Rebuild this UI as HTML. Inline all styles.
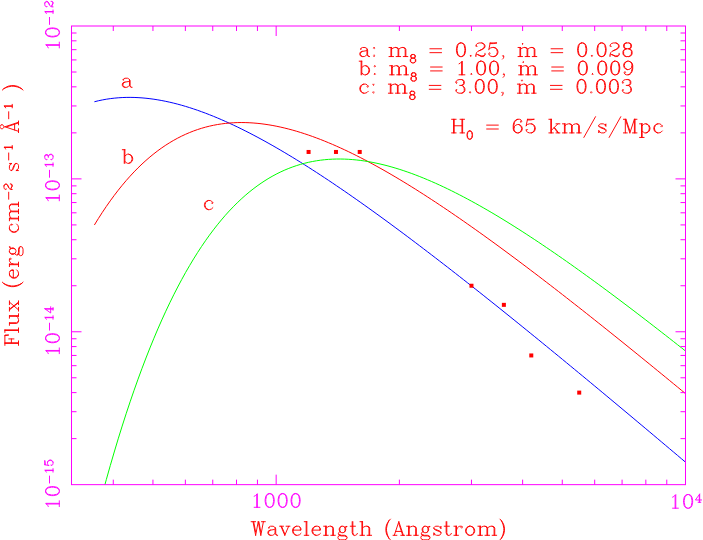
<!DOCTYPE html>
<html lang="en"><head><meta charset="utf-8"><title>Flux vs Wavelength</title>
<style>
html,body{margin:0;padding:0;background:#fff}
body{width:703px;height:540px;overflow:hidden;font-family:"Liberation Serif",serif}
svg{display:block}
.t{fill:none;stroke-width:0.95;stroke-linecap:round;stroke-linejoin:round}
.ax{fill:none;stroke:#ff00ff;stroke-width:1.0;stroke-linecap:butt}
.cv path{fill:none;stroke-width:1.0;stroke-linejoin:round}
.lbl text{font-family:"Liberation Serif",serif;font-size:15px;fill:#000;fill-opacity:0;stroke:none}
</style></head><body>
<svg width="703" height="540" viewBox="0 0 703 540">
<rect width="703" height="540" fill="#fff"/>
<defs><clipPath id="c"><rect x="71.5" y="26" width="614" height="458.65"/></clipPath></defs>
<g class="cv" clip-path="url(#c)">
<path stroke="#0000ff" d="M94.4 101.75 L98.37 100.78 L102.33 99.94 L106.3 99.22 L110.27 98.63 L114.24 98.16 L118.2 97.8 L122.17 97.55 L126.14 97.41 L130.1 97.38 L134.07 97.45 L138.04 97.61 L142.01 97.88 L145.97 98.24 L149.94 98.69 L153.91 99.23 L157.87 99.85 L161.84 100.56 L165.81 101.35 L169.78 102.21 L173.74 103.15 L177.71 104.17 L181.68 105.26 L185.64 106.42 L189.61 107.64 L193.58 108.93 L197.54 110.28 L201.51 111.7 L205.48 113.17 L209.45 114.7 L213.41 116.29 L217.38 117.93 L221.35 119.62 L225.31 121.37 L229.28 123.16 L233.25 125 L237.22 126.89 L241.18 128.82 L245.15 130.8 L249.12 132.82 L253.08 134.88 L257.05 136.98 L261.02 139.11 L264.99 141.29 L268.95 143.5 L272.92 145.74 L276.89 148.02 L280.85 150.33 L284.82 152.68 L288.79 155.05 L292.76 157.46 L296.72 159.89 L300.69 162.35 L304.66 164.84 L308.62 167.35 L312.59 169.9 L316.56 172.46 L320.53 175.05 L324.49 177.66 L328.46 180.3 L332.43 182.95 L336.39 185.63 L340.36 188.33 L344.33 191.05 L348.3 193.79 L352.26 196.55 L356.23 199.32 L360.2 202.12 L364.16 204.93 L368.13 207.75 L372.1 210.6 L376.07 213.46 L380.03 216.33 L384 219.22 L387.97 222.12 L391.93 225.04 L395.9 227.97 L399.87 230.91 L403.83 233.87 L407.8 236.84 L411.77 239.82 L415.74 242.82 L419.7 245.82 L423.67 248.84 L427.64 251.86 L431.6 254.9 L435.57 257.95 L439.54 261 L443.51 264.07 L447.47 267.14 L451.44 270.23 L455.41 273.32 L459.37 276.42 L463.34 279.53 L467.31 282.65 L471.28 285.78 L475.24 288.91 L479.21 292.06 L483.18 295.2 L487.14 298.36 L491.11 301.52 L495.08 304.69 L499.05 307.87 L503.01 311.05 L506.98 314.24 L510.95 317.43 L514.91 320.63 L518.88 323.84 L522.85 327.05 L526.82 330.27 L530.78 333.49 L534.75 336.72 L538.72 339.95 L542.68 343.19 L546.65 346.43 L550.62 349.68 L554.59 352.93 L558.55 356.18 L562.52 359.44 L566.49 362.71 L570.45 365.98 L574.42 369.25 L578.39 372.52 L582.36 375.8 L586.32 379.09 L590.29 382.37 L594.26 385.66 L598.22 388.96 L602.19 392.26 L606.16 395.56 L610.12 398.86 L614.09 402.17 L618.06 405.48 L622.03 408.79 L625.99 412.1 L629.96 415.42 L633.93 418.74 L637.89 422.07 L641.86 425.4 L645.83 428.72 L649.8 432.06 L653.76 435.39 L657.73 438.73 L661.7 442.07 L665.66 445.41 L669.63 448.75 L673.6 452.1 L677.57 455.45 L681.53 458.8 L685.5 462.15"/>
<path stroke="#ff0000" d="M94.4 224.98 L98.37 218.55 L102.33 212.38 L106.3 206.47 L110.27 200.82 L114.24 195.42 L118.2 190.25 L122.17 185.33 L126.14 180.63 L130.1 176.16 L134.07 171.9 L138.04 167.86 L142.01 164.03 L145.97 160.41 L149.94 156.98 L153.91 153.74 L157.87 150.69 L161.84 147.83 L165.81 145.14 L169.78 142.63 L173.74 140.29 L177.71 138.12 L181.68 136.1 L185.64 134.25 L189.61 132.54 L193.58 130.98 L197.54 129.57 L201.51 128.3 L205.48 127.17 L209.45 126.17 L213.41 125.3 L217.38 124.55 L221.35 123.93 L225.31 123.43 L229.28 123.04 L233.25 122.77 L237.22 122.6 L241.18 122.54 L245.15 122.58 L249.12 122.73 L253.08 122.97 L257.05 123.31 L261.02 123.73 L264.99 124.25 L268.95 124.85 L272.92 125.54 L276.89 126.31 L280.85 127.16 L284.82 128.08 L288.79 129.08 L292.76 130.15 L296.72 131.29 L300.69 132.5 L304.66 133.77 L308.62 135.11 L312.59 136.51 L316.56 137.97 L320.53 139.48 L324.49 141.06 L328.46 142.69 L332.43 144.37 L336.39 146.1 L340.36 147.88 L344.33 149.71 L348.3 151.59 L352.26 153.51 L356.23 155.48 L360.2 157.48 L364.16 159.53 L368.13 161.62 L372.1 163.75 L376.07 165.92 L380.03 168.12 L384 170.35 L387.97 172.62 L391.93 174.93 L395.9 177.26 L399.87 179.63 L403.83 182.03 L407.8 184.45 L411.77 186.91 L415.74 189.39 L419.7 191.9 L423.67 194.43 L427.64 196.99 L431.6 199.58 L435.57 202.18 L439.54 204.81 L443.51 207.47 L447.47 210.14 L451.44 212.83 L455.41 215.55 L459.37 218.28 L463.34 221.03 L467.31 223.8 L471.28 226.59 L475.24 229.4 L479.21 232.22 L483.18 235.06 L487.14 237.92 L491.11 240.79 L495.08 243.67 L499.05 246.57 L503.01 249.49 L506.98 252.41 L510.95 255.36 L514.91 258.31 L518.88 261.28 L522.85 264.25 L526.82 267.24 L530.78 270.25 L534.75 273.26 L538.72 276.28 L542.68 279.32 L546.65 282.36 L550.62 285.42 L554.59 288.48 L558.55 291.55 L562.52 294.64 L566.49 297.73 L570.45 300.83 L574.42 303.94 L578.39 307.05 L582.36 310.18 L586.32 313.31 L590.29 316.45 L594.26 319.6 L598.22 322.75 L602.19 325.91 L606.16 329.08 L610.12 332.25 L614.09 335.43 L618.06 338.62 L622.03 341.81 L625.99 345.01 L629.96 348.22 L633.93 351.43 L637.89 354.64 L641.86 357.86 L645.83 361.09 L649.8 364.32 L653.76 367.56 L657.73 370.8 L661.7 374.04 L665.66 377.29 L669.63 380.55 L673.6 383.81 L677.57 387.07 L681.53 390.34 L685.5 393.61"/>
<path stroke="#00ff00" d="M94.4 524.5 L98.37 509.08 L102.33 494.12 L106.3 479.63 L110.27 465.59 L114.24 452 L118.2 438.83 L122.17 426.09 L126.14 413.76 L130.1 401.84 L134.07 390.31 L138.04 379.16 L142.01 368.39 L145.97 357.99 L149.94 347.95 L153.91 338.26 L157.87 328.91 L161.84 319.9 L165.81 311.21 L169.78 302.84 L173.74 294.79 L177.71 287.04 L181.68 279.59 L185.64 272.42 L189.61 265.55 L193.58 258.95 L197.54 252.62 L201.51 246.55 L205.48 240.74 L209.45 235.18 L213.41 229.87 L217.38 224.8 L221.35 219.96 L225.31 215.35 L229.28 210.97 L233.25 206.8 L237.22 202.84 L241.18 199.09 L245.15 195.53 L249.12 192.18 L253.08 189.02 L257.05 186.04 L261.02 183.25 L264.99 180.63 L268.95 178.18 L272.92 175.91 L276.89 173.79 L280.85 171.84 L284.82 170.04 L288.79 168.4 L292.76 166.9 L296.72 165.54 L300.69 164.32 L304.66 163.24 L308.62 162.29 L312.59 161.47 L316.56 160.77 L320.53 160.19 L324.49 159.74 L328.46 159.39 L332.43 159.16 L336.39 159.04 L340.36 159.02 L344.33 159.1 L348.3 159.28 L352.26 159.56 L356.23 159.93 L360.2 160.39 L364.16 160.94 L368.13 161.58 L372.1 162.3 L376.07 163.1 L380.03 163.98 L384 164.93 L387.97 165.95 L391.93 167.05 L395.9 168.22 L399.87 169.45 L403.83 170.75 L407.8 172.11 L411.77 173.53 L415.74 175.02 L419.7 176.56 L423.67 178.15 L427.64 179.8 L431.6 181.5 L435.57 183.25 L439.54 185.05 L443.51 186.9 L447.47 188.79 L451.44 190.73 L455.41 192.72 L459.37 194.74 L463.34 196.8 L467.31 198.91 L471.28 201.05 L475.24 203.23 L479.21 205.45 L483.18 207.7 L487.14 209.98 L491.11 212.3 L495.08 214.64 L499.05 217.02 L503.01 219.43 L506.98 221.87 L510.95 224.33 L514.91 226.83 L518.88 229.34 L522.85 231.89 L526.82 234.46 L530.78 237.05 L534.75 239.67 L538.72 242.3 L542.68 244.96 L546.65 247.65 L550.62 250.35 L554.59 253.07 L558.55 255.81 L562.52 258.57 L566.49 261.35 L570.45 264.14 L574.42 266.96 L578.39 269.79 L582.36 272.63 L586.32 275.49 L590.29 278.37 L594.26 281.26 L598.22 284.17 L602.19 287.08 L606.16 290.02 L610.12 292.96 L614.09 295.92 L618.06 298.89 L622.03 301.88 L625.99 304.87 L629.96 307.88 L633.93 310.89 L637.89 313.92 L641.86 316.96 L645.83 320.01 L649.8 323.07 L653.76 326.13 L657.73 329.21 L661.7 332.3 L665.66 335.39 L669.63 338.49 L673.6 341.61 L677.57 344.73 L681.53 347.85 L685.5 350.99"/>
</g>
<g fill="#ff0000"><rect x="306.58" y="149.96" width="4" height="4"/><rect x="333.98" y="149.96" width="4" height="4"/><rect x="357.72" y="149.96" width="4" height="4"/><rect x="469.47" y="283.74" width="4" height="4"/><rect x="501.88" y="302.85" width="4" height="4"/><rect x="529.28" y="353.45" width="4" height="4"/><rect x="577.22" y="390.61" width="4" height="4"/></g>
<rect class="ax" x="71.5" y="26" width="614" height="458.65"/>
<path class="ax" stroke-width="1.0" d="M113.28 484.65V479.65M113.28 26V31M152.95 484.65V479.65M152.95 26V31M185.36 484.65V479.65M185.36 26V31M212.76 484.65V479.65M212.76 26V31M236.5 484.65V479.65M236.5 26V31M257.44 484.65V479.65M257.44 26V31M276.17 484.65V474.65M276.17 26V36M399.39 484.65V479.65M399.39 26V31M471.47 484.65V479.65M471.47 26V31M522.61 484.65V479.65M522.61 26V31M562.28 484.65V479.65M562.28 26V31M594.69 484.65V479.65M594.69 26V31M622.09 484.65V479.65M622.09 26V31M645.83 484.65V479.65M645.83 26V31M666.77 484.65V479.65M666.77 26V31M71.5 438.63H76.5M685.5 438.63H680.5M71.5 411.71H76.5M685.5 411.71H680.5M71.5 392.61H76.5M685.5 392.61H680.5M71.5 377.79H76.5M685.5 377.79H680.5M71.5 365.68H76.5M685.5 365.68H680.5M71.5 355.45H76.5M685.5 355.45H680.5M71.5 346.58H76.5M685.5 346.58H680.5M71.5 338.76H76.5M685.5 338.76H680.5M71.5 331.77H81.5M685.5 331.77H675.5M71.5 285.74H76.5M685.5 285.74H680.5M71.5 258.82H76.5M685.5 258.82H680.5M71.5 239.72H76.5M685.5 239.72H680.5M71.5 224.91H76.5M685.5 224.91H680.5M71.5 212.8H76.5M685.5 212.8H680.5M71.5 202.57H76.5M685.5 202.57H680.5M71.5 193.7H76.5M685.5 193.7H680.5M71.5 185.88H76.5M685.5 185.88H680.5M71.5 178.88H81.5M685.5 178.88H675.5M71.5 132.86H76.5M685.5 132.86H680.5M71.5 105.94H76.5M685.5 105.94H680.5M71.5 86.84H76.5M685.5 86.84H680.5M71.5 72.02H76.5M685.5 72.02H680.5M71.5 59.92H76.5M685.5 59.92H680.5M71.5 49.68H76.5M685.5 49.68H680.5M71.5 40.82H76.5M685.5 40.82H680.5M71.5 33H76.5M685.5 33H680.5"/>
<g>
<path class="t" stroke="#ff00ff" d="M254.13 496.28 L255.43 495.64 L257.37 493.69 L257.37 507.3M256.73 494.34 L256.73 507.3M254.13 507.3 L259.97 507.3M269.04 493.69 L267.09 494.34 L265.8 496.28 L265.15 499.52 L265.15 501.47 L265.8 504.71 L267.09 506.65 L269.04 507.3 L270.33 507.3 L272.28 506.65 L273.57 504.71 L274.22 501.47 L274.22 499.52 L273.57 496.28 L272.28 494.34 L270.33 493.69 L269.04 493.69M269.04 493.69 L267.74 494.34 L267.09 494.99 L266.45 496.28 L265.8 499.52 L265.8 501.47 L266.45 504.71 L267.09 506 L267.74 506.65 L269.04 507.3M270.33 507.3 L271.63 506.65 L272.28 506 L272.93 504.71 L273.57 501.47 L273.57 499.52 L272.93 496.28 L272.28 494.99 L271.63 494.34 L270.33 493.69M282 493.69 L280.05 494.34 L278.76 496.28 L278.11 499.52 L278.11 501.47 L278.76 504.71 L280.05 506.65 L282 507.3 L283.29 507.3 L285.24 506.65 L286.53 504.71 L287.18 501.47 L287.18 499.52 L286.53 496.28 L285.24 494.34 L283.29 493.69 L282 493.69M282 493.69 L280.7 494.34 L280.05 494.99 L279.41 496.28 L278.76 499.52 L278.76 501.47 L279.41 504.71 L280.05 506 L280.7 506.65 L282 507.3M283.29 507.3 L284.59 506.65 L285.24 506 L285.89 504.71 L286.53 501.47 L286.53 499.52 L285.89 496.28 L285.24 494.99 L284.59 494.34 L283.29 493.69M294.96 493.69 L293.01 494.34 L291.72 496.28 L291.07 499.52 L291.07 501.47 L291.72 504.71 L293.01 506.65 L294.96 507.3 L296.25 507.3 L298.2 506.65 L299.49 504.71 L300.14 501.47 L300.14 499.52 L299.49 496.28 L298.2 494.34 L296.25 493.69 L294.96 493.69M294.96 493.69 L293.66 494.34 L293.01 494.99 L292.37 496.28 L291.72 499.52 L291.72 501.47 L292.37 504.71 L293.01 506 L293.66 506.65 L294.96 507.3M296.25 507.3 L297.55 506.65 L298.2 506 L298.85 504.71 L299.49 501.47 L299.49 499.52 L298.85 496.28 L298.2 494.99 L297.55 494.34 L296.25 493.69"/>
<path class="t" stroke="#ff00ff" d="M672.54 497.18 L673.84 496.54 L675.78 494.59 L675.78 508.2M675.13 495.24 L675.13 508.2M672.54 508.2 L678.37 508.2M687.44 494.59 L685.5 495.24 L684.2 497.18 L683.56 500.42 L683.56 502.37 L684.2 505.61 L685.5 507.55 L687.44 508.2 L688.74 508.2 L690.68 507.55 L691.98 505.61 L692.63 502.37 L692.63 500.42 L691.98 497.18 L690.68 495.24 L688.74 494.59 L687.44 494.59M687.44 494.59 L686.15 495.24 L685.5 495.89 L684.85 497.18 L684.2 500.42 L684.2 502.37 L684.85 505.61 L685.5 506.9 L686.15 507.55 L687.44 508.2M688.74 508.2 L690.04 507.55 L690.68 506.9 L691.33 505.61 L691.98 502.37 L691.98 500.42 L691.33 497.18 L690.68 495.89 L690.04 495.24 L688.74 494.59"/>
<path class="t" stroke="#ff00ff" d="M699.29 494.91 L699.29 502.3M699.68 494.14 L699.68 502.3M699.68 494.14 L695.4 499.97 L701.62 499.97M698.12 502.3 L700.84 502.3"/>
<path class="t" stroke="#ff00ff" d="M48.28 47.92 L47.64 46.63 L45.69 44.69 L59.3 44.69M46.34 45.34 L59.3 45.34M59.3 47.92 L59.3 42.11M45.69 33.08 L46.34 35.01 L48.28 36.3 L51.52 36.95 L53.47 36.95 L56.71 36.3 L58.65 35.01 L59.3 33.08 L59.3 31.79 L58.65 29.85 L56.71 28.56 L53.47 27.91 L51.52 27.91 L48.28 28.56 L46.34 29.85 L45.69 31.79 L45.69 33.08M45.69 33.08 L46.34 34.37 L46.99 35.01 L48.28 35.66 L51.52 36.3 L53.47 36.3 L56.71 35.66 L58 35.01 L58.65 34.37 L59.3 33.08M59.3 31.79 L58.65 30.5 L58 29.85 L56.71 29.2 L53.47 28.56 L51.52 28.56 L48.28 29.2 L46.99 29.85 L46.34 30.5 L45.69 31.79M49.5 24.42 L49.5 17.39M46.36 13.48 L45.97 12.7 L44.79 11.53 L53.03 11.53M45.19 11.92 L53.03 11.92M53.03 13.48 L53.03 9.97M46.36 6.45 L46.75 6.06 L47.15 6.45 L46.75 6.84 L46.36 6.84 L45.58 6.45 L45.19 6.06 L44.79 4.89 L44.79 3.33 L45.19 2.16 L45.58 1.77 L46.36 1.38 L47.15 1.38 L47.93 1.77 L48.71 2.94 L49.5 4.89 L49.89 5.67 L50.68 6.45 L51.85 6.84 L53.03 6.84M44.79 3.33 L45.19 2.55 L45.58 2.16 L46.36 1.77 L47.15 1.77 L47.93 2.16 L48.71 3.33 L49.5 4.89M52.24 6.84 L51.85 6.45 L51.85 5.67 L52.64 3.72 L52.64 2.55 L52.24 1.77 L51.85 1.38M51.85 5.67 L53.03 3.72 L53.03 2.16 L52.64 1.77 L51.85 1.38 L51.07 1.38"/>
<path class="t" stroke="#ff00ff" d="M48.28 200.8 L47.64 199.51 L45.69 197.58 L59.3 197.58M46.34 198.22 L59.3 198.22M59.3 200.8 L59.3 195M45.69 185.96 L46.34 187.9 L48.28 189.19 L51.52 189.83 L53.47 189.83 L56.71 189.19 L58.65 187.9 L59.3 185.96 L59.3 184.67 L58.65 182.73 L56.71 181.44 L53.47 180.8 L51.52 180.8 L48.28 181.44 L46.34 182.73 L45.69 184.67 L45.69 185.96M45.69 185.96 L46.34 187.25 L46.99 187.9 L48.28 188.54 L51.52 189.19 L53.47 189.19 L56.71 188.54 L58 187.9 L58.65 187.25 L59.3 185.96M59.3 184.67 L58.65 183.38 L58 182.73 L56.71 182.09 L53.47 181.44 L51.52 181.44 L48.28 182.09 L46.99 182.73 L46.34 183.38 L45.69 184.67M49.5 177.3 L49.5 170.27M46.36 166.37 L45.97 165.58 L44.79 164.41 L53.03 164.41M45.19 164.8 L53.03 164.8M53.03 166.37 L53.03 162.85M46.36 159.34 L46.75 158.95 L47.15 159.34 L46.75 159.73 L46.36 159.73 L45.58 159.34 L45.19 158.95 L44.79 157.78 L44.79 156.21 L45.19 155.04 L45.97 154.65 L47.15 154.65 L47.93 155.04 L48.32 156.21 L48.32 157.38M44.79 156.21 L45.19 155.43 L45.97 155.04 L47.15 155.04 L47.93 155.43 L48.32 156.21M48.32 156.21 L48.71 155.43 L49.5 154.65 L50.28 154.26 L51.46 154.26 L52.24 154.65 L52.64 155.04 L53.03 156.21 L53.03 157.78 L52.64 158.95 L52.24 159.34 L51.46 159.73 L51.07 159.73 L50.68 159.34 L51.07 158.95 L51.46 159.34M49.11 155.04 L50.28 154.65 L51.46 154.65 L52.24 155.04 L52.64 155.43 L53.03 156.21"/>
<path class="t" stroke="#ff00ff" d="M48.28 353.69 L47.64 352.4 L45.69 350.46 L59.3 350.46M46.34 351.11 L59.3 351.11M59.3 353.69 L59.3 347.88M45.69 338.84 L46.34 340.78 L48.28 342.07 L51.52 342.72 L53.47 342.72 L56.71 342.07 L58.65 340.78 L59.3 338.84 L59.3 337.55 L58.65 335.62 L56.71 334.33 L53.47 333.68 L51.52 333.68 L48.28 334.33 L46.34 335.62 L45.69 337.55 L45.69 338.84M45.69 338.84 L46.34 340.13 L46.99 340.78 L48.28 341.43 L51.52 342.07 L53.47 342.07 L56.71 341.43 L58 340.78 L58.65 340.13 L59.3 338.84M59.3 337.55 L58.65 336.26 L58 335.62 L56.71 334.97 L53.47 334.33 L51.52 334.33 L48.28 334.97 L46.99 335.62 L46.34 336.26 L45.69 337.55M49.5 330.18 L49.5 323.15M46.36 319.25 L45.97 318.47 L44.79 317.3 L53.03 317.3M45.19 317.69 L53.03 317.69M53.03 319.25 L53.03 315.73M45.58 309.1 L53.03 309.1M44.79 308.71 L53.03 308.71M44.79 308.71 L50.68 313 L50.68 306.75M53.03 310.27 L53.03 307.53"/>
<path class="t" stroke="#ff00ff" d="M48.28 506.57 L47.64 505.28 L45.69 503.34 L59.3 503.34M46.34 503.99 L59.3 503.99M59.3 506.57 L59.3 500.76M45.69 491.73 L46.34 493.66 L48.28 494.95 L51.52 495.6 L53.47 495.6 L56.71 494.95 L58.65 493.66 L59.3 491.73 L59.3 490.44 L58.65 488.5 L56.71 487.21 L53.47 486.56 L51.52 486.56 L48.28 487.21 L46.34 488.5 L45.69 490.44 L45.69 491.73M45.69 491.73 L46.34 493.02 L46.99 493.66 L48.28 494.31 L51.52 494.95 L53.47 494.95 L56.71 494.31 L58 493.66 L58.65 493.02 L59.3 491.73M59.3 490.44 L58.65 489.15 L58 488.5 L56.71 487.85 L53.47 487.21 L51.52 487.21 L48.28 487.85 L46.99 488.5 L46.34 489.15 L45.69 490.44M49.5 483.07 L49.5 476.04M46.36 472.13 L45.97 471.35 L44.79 470.18 L53.03 470.18M45.19 470.57 L53.03 470.57M53.03 472.13 L53.03 468.62M44.79 464.71 L48.71 465.49M48.71 465.49 L47.93 464.71 L47.54 463.54 L47.54 462.37 L47.93 461.2 L48.71 460.42 L49.89 460.03 L50.68 460.03 L51.85 460.42 L52.64 461.2 L53.03 462.37 L53.03 463.54 L52.64 464.71 L52.24 465.1 L51.46 465.49 L51.07 465.49 L50.68 465.1 L51.07 464.71 L51.46 465.1M47.54 462.37 L47.93 461.59 L48.71 460.81 L49.89 460.42 L50.68 460.42 L51.85 460.81 L52.64 461.59 L53.03 462.37M44.79 464.71 L44.79 460.81M45.19 464.71 L45.19 462.76 L44.79 460.81"/>
<path class="t" stroke="#ff0000" d="M253.04 521.69 L255.63 535.3M253.69 521.69 L255.63 532.06M258.23 521.69 L255.63 535.3M258.23 521.69 L260.82 535.3M258.87 521.69 L260.82 532.06M263.41 521.69 L260.82 535.3M251.1 521.69 L255.63 521.69M261.47 521.69 L265.35 521.69M269.24 527.52 L269.24 528.17 L268.59 528.17 L268.59 527.52 L269.24 526.88 L270.54 526.23 L273.13 526.23 L274.43 526.88 L275.07 527.52 L275.72 528.82 L275.72 533.36 L276.37 534.65 L277.02 535.3M275.07 527.52 L275.07 533.36 L275.72 534.65 L277.02 535.3 L277.67 535.3M275.07 528.82 L274.43 529.47 L270.54 530.12 L268.59 530.76 L267.95 532.06 L267.95 533.36 L268.59 534.65 L270.54 535.3 L272.48 535.3 L273.78 534.65 L275.07 533.36M270.54 530.12 L269.24 530.76 L268.59 532.06 L268.59 533.36 L269.24 534.65 L270.54 535.3M280.91 526.23 L284.79 535.3M281.55 526.23 L284.79 534M288.68 526.23 L284.79 535.3M279.61 526.23 L283.5 526.23M286.09 526.23 L289.98 526.23M293.22 530.12 L300.99 530.12 L300.99 528.82 L300.35 527.52 L299.7 526.88 L298.4 526.23 L296.46 526.23 L294.51 526.88 L293.22 528.17 L292.57 530.12 L292.57 531.41 L293.22 533.36 L294.51 534.65 L296.46 535.3 L297.75 535.3 L299.7 534.65 L300.99 533.36M300.35 530.12 L300.35 528.17 L299.7 526.88M296.46 526.23 L295.16 526.88 L293.87 528.17 L293.22 530.12 L293.22 531.41 L293.87 533.36 L295.16 534.65 L296.46 535.3M306.18 521.69 L306.18 535.3M306.83 521.69 L306.83 535.3M304.23 521.69 L306.83 521.69M304.23 535.3 L308.77 535.3M312.66 530.12 L320.43 530.12 L320.43 528.82 L319.79 527.52 L319.14 526.88 L317.84 526.23 L315.9 526.23 L313.95 526.88 L312.66 528.17 L312.01 530.12 L312.01 531.41 L312.66 533.36 L313.95 534.65 L315.9 535.3 L317.19 535.3 L319.14 534.65 L320.43 533.36M319.79 530.12 L319.79 528.17 L319.14 526.88M315.9 526.23 L314.6 526.88 L313.31 528.17 L312.66 530.12 L312.66 531.41 L313.31 533.36 L314.6 534.65 L315.9 535.3M325.62 526.23 L325.62 535.3M326.27 526.23 L326.27 535.3M326.27 528.17 L327.56 526.88 L329.51 526.23 L330.8 526.23 L332.75 526.88 L333.39 528.17 L333.39 535.3M330.8 526.23 L332.1 526.88 L332.75 528.17 L332.75 535.3M323.67 526.23 L326.27 526.23M323.67 535.3 L328.21 535.3M330.8 535.3 L335.34 535.3M341.82 526.23 L340.52 526.88 L339.87 527.52 L339.23 528.82 L339.23 530.12 L339.87 531.41 L340.52 532.06 L341.82 532.71 L343.11 532.71 L344.41 532.06 L345.06 531.41 L345.71 530.12 L345.71 528.82 L345.06 527.52 L344.41 526.88 L343.11 526.23 L341.82 526.23M340.52 526.88 L339.87 528.17 L339.87 530.76 L340.52 532.06M344.41 532.06 L345.06 530.76 L345.06 528.17 L344.41 526.88M345.06 527.52 L345.71 526.88 L347 526.23 L347 526.88 L345.71 526.88M339.87 531.41 L339.23 532.06 L338.58 533.36 L338.58 534 L339.23 535.3 L341.17 535.95 L344.41 535.95 L346.35 536.6 L347 537.24M338.58 534 L339.23 534.65 L341.17 535.3 L344.41 535.3 L346.35 535.95 L347 537.24 L347 537.89 L346.35 539.19 L344.41 539.84 L340.52 539.84 L338.58 539.19 L337.93 537.89 L337.93 537.24 L338.58 535.95 L340.52 535.3M352.19 521.69 L352.19 532.71 L352.83 534.65 L354.13 535.3 L355.43 535.3 L356.72 534.65 L357.37 533.36M352.83 521.69 L352.83 532.71 L353.48 534.65 L354.13 535.3M350.24 526.23 L355.43 526.23M361.91 521.69 L361.91 535.3M362.55 521.69 L362.55 535.3M362.55 528.17 L363.85 526.88 L365.79 526.23 L367.09 526.23 L369.03 526.88 L369.68 528.17 L369.68 535.3M367.09 526.23 L368.39 526.88 L369.03 528.17 L369.03 535.3M359.96 521.69 L362.55 521.69M359.96 535.3 L364.5 535.3M367.09 535.3 L371.63 535.3M390.42 519.1 L389.12 520.4 L387.83 522.34 L386.53 524.93 L385.88 528.17 L385.88 530.76 L386.53 534 L387.83 536.6 L389.12 538.54 L390.42 539.84M389.12 520.4 L387.83 522.99 L387.18 524.93 L386.53 528.17 L386.53 530.76 L387.18 534 L387.83 535.95 L389.12 538.54M398.84 521.69 L394.31 535.3M398.84 521.69 L403.38 535.3M398.84 523.64 L402.73 535.3M395.6 531.41 L401.43 531.41M393.01 535.3 L396.9 535.3M400.79 535.3 L404.67 535.3M408.56 526.23 L408.56 535.3M409.21 526.23 L409.21 535.3M409.21 528.17 L410.51 526.88 L412.45 526.23 L413.75 526.23 L415.69 526.88 L416.34 528.17 L416.34 535.3M413.75 526.23 L415.04 526.88 L415.69 528.17 L415.69 535.3M406.62 526.23 L409.21 526.23M406.62 535.3 L411.15 535.3M413.75 535.3 L418.28 535.3M424.76 526.23 L423.47 526.88 L422.82 527.52 L422.17 528.82 L422.17 530.12 L422.82 531.41 L423.47 532.06 L424.76 532.71 L426.06 532.71 L427.35 532.06 L428 531.41 L428.65 530.12 L428.65 528.82 L428 527.52 L427.35 526.88 L426.06 526.23 L424.76 526.23M423.47 526.88 L422.82 528.17 L422.82 530.76 L423.47 532.06M427.35 532.06 L428 530.76 L428 528.17 L427.35 526.88M428 527.52 L428.65 526.88 L429.95 526.23 L429.95 526.88 L428.65 526.88M422.82 531.41 L422.17 532.06 L421.52 533.36 L421.52 534 L422.17 535.3 L424.11 535.95 L427.35 535.95 L429.3 536.6 L429.95 537.24M421.52 534 L422.17 534.65 L424.11 535.3 L427.35 535.3 L429.3 535.95 L429.95 537.24 L429.95 537.89 L429.3 539.19 L427.35 539.84 L423.47 539.84 L421.52 539.19 L420.87 537.89 L420.87 537.24 L421.52 535.95 L423.47 535.3M440.31 527.52 L440.96 526.23 L440.96 528.82 L440.31 527.52 L439.67 526.88 L438.37 526.23 L435.78 526.23 L434.48 526.88 L433.83 527.52 L433.83 528.82 L434.48 529.47 L435.78 530.12 L439.02 531.41 L440.31 532.06 L440.96 532.71M433.83 528.17 L434.48 528.82 L435.78 529.47 L439.02 530.76 L440.31 531.41 L440.96 532.06 L440.96 534 L440.31 534.65 L439.02 535.3 L436.43 535.3 L435.13 534.65 L434.48 534 L433.83 532.71 L433.83 535.3 L434.48 534M446.15 521.69 L446.15 532.71 L446.79 534.65 L448.09 535.3 L449.39 535.3 L450.68 534.65 L451.33 533.36M446.79 521.69 L446.79 532.71 L447.44 534.65 L448.09 535.3M444.2 526.23 L449.39 526.23M455.87 526.23 L455.87 535.3M456.51 526.23 L456.51 535.3M456.51 530.12 L457.16 528.17 L458.46 526.88 L459.75 526.23 L461.7 526.23 L462.35 526.88 L462.35 527.52 L461.7 528.17 L461.05 527.52 L461.7 526.88M453.92 526.23 L456.51 526.23M453.92 535.3 L458.46 535.3M469.47 526.23 L467.53 526.88 L466.23 528.17 L465.59 530.12 L465.59 531.41 L466.23 533.36 L467.53 534.65 L469.47 535.3 L470.77 535.3 L472.71 534.65 L474.01 533.36 L474.66 531.41 L474.66 530.12 L474.01 528.17 L472.71 526.88 L470.77 526.23 L469.47 526.23M469.47 526.23 L468.18 526.88 L466.88 528.17 L466.23 530.12 L466.23 531.41 L466.88 533.36 L468.18 534.65 L469.47 535.3M470.77 535.3 L472.07 534.65 L473.36 533.36 L474.01 531.41 L474.01 530.12 L473.36 528.17 L472.07 526.88 L470.77 526.23M479.84 526.23 L479.84 535.3M480.49 526.23 L480.49 535.3M480.49 528.17 L481.79 526.88 L483.73 526.23 L485.03 526.23 L486.97 526.88 L487.62 528.17 L487.62 535.3M485.03 526.23 L486.32 526.88 L486.97 528.17 L486.97 535.3M487.62 528.17 L488.91 526.88 L490.86 526.23 L492.15 526.23 L494.1 526.88 L494.75 528.17 L494.75 535.3M492.15 526.23 L493.45 526.88 L494.1 528.17 L494.1 535.3M477.9 526.23 L480.49 526.23M477.9 535.3 L482.43 535.3M485.03 535.3 L489.56 535.3M492.15 535.3 L496.69 535.3M499.93 519.1 L501.23 520.4 L502.52 522.34 L503.82 524.93 L504.47 528.17 L504.47 530.76 L503.82 534 L502.52 536.6 L501.23 538.54 L499.93 539.84M501.23 520.4 L502.52 522.99 L503.17 524.93 L503.82 528.17 L503.82 530.76 L503.17 534 L502.52 535.95 L501.23 538.54"/>
<path class="t" stroke="#ff0000" d="M4.89 343.42 L18.5 343.42M4.89 342.78 L18.5 342.78M8.78 338.91 L13.96 338.91M4.89 345.36 L4.89 335.03 L8.78 335.03 L4.89 335.68M11.37 342.78 L11.37 338.91M18.5 345.36 L18.5 340.84M4.89 330.51 L18.5 330.51M4.89 329.87 L18.5 329.87M4.89 332.45 L4.89 329.87M18.5 332.45 L18.5 327.93M9.43 323.42 L16.56 323.42 L17.85 322.77 L18.5 320.83 L18.5 319.54 L17.85 317.61 L16.56 316.32M9.43 322.77 L16.56 322.77 L17.85 322.12 L18.5 320.83M9.43 316.32 L18.5 316.32M9.43 315.67 L18.5 315.67M9.43 325.35 L9.43 322.77M9.43 318.25 L9.43 315.67M18.5 316.32 L18.5 313.73M9.43 309.86 L18.5 302.76M9.43 309.22 L18.5 302.12M9.43 302.12 L18.5 309.86M9.43 311.15 L9.43 307.28M9.43 304.7 L9.43 300.83M18.5 311.15 L18.5 307.28M18.5 304.7 L18.5 300.83M2.3 282.11 L3.6 283.4 L5.54 284.69 L8.13 285.98 L11.37 286.63 L13.96 286.63 L17.2 285.98 L19.8 284.69 L21.74 283.4 L23.04 282.11M3.6 283.4 L6.19 284.69 L8.13 285.34 L11.37 285.98 L13.96 285.98 L17.2 285.34 L19.15 284.69 L21.74 283.4M13.32 277.59 L13.32 269.85 L12.02 269.85 L10.72 270.49 L10.08 271.14 L9.43 272.43 L9.43 274.36 L10.08 276.3 L11.37 277.59 L13.32 278.24 L14.61 278.24 L16.56 277.59 L17.85 276.3 L18.5 274.36 L18.5 273.07 L17.85 271.14 L16.56 269.85M13.32 270.49 L11.37 270.49 L10.08 271.14M9.43 274.36 L10.08 275.66 L11.37 276.95 L13.32 277.59 L14.61 277.59 L16.56 276.95 L17.85 275.66 L18.5 274.36M9.43 264.68 L18.5 264.68M9.43 264.04 L18.5 264.04M13.32 264.04 L11.37 263.39 L10.08 262.1 L9.43 260.81 L9.43 258.87 L10.08 258.23 L10.72 258.23 L11.37 258.87 L10.72 259.52 L10.08 258.87M9.43 266.62 L9.43 264.04M18.5 266.62 L18.5 262.1M9.43 251.78 L10.08 253.07 L10.72 253.71 L12.02 254.36 L13.32 254.36 L14.61 253.71 L15.26 253.07 L15.91 251.78 L15.91 250.48 L15.26 249.19 L14.61 248.55 L13.32 247.9 L12.02 247.9 L10.72 248.55 L10.08 249.19 L9.43 250.48 L9.43 251.78M10.08 253.07 L11.37 253.71 L13.96 253.71 L15.26 253.07M15.26 249.19 L13.96 248.55 L11.37 248.55 L10.08 249.19M10.72 248.55 L10.08 247.9 L9.43 246.61 L10.08 246.61 L10.08 247.9M14.61 253.71 L15.26 254.36 L16.56 255 L17.2 255 L18.5 254.36 L19.15 252.42 L19.15 249.19 L19.8 247.26 L20.44 246.61M17.2 255 L17.85 254.36 L18.5 252.42 L18.5 249.19 L19.15 247.26 L20.44 246.61 L21.09 246.61 L22.39 247.26 L23.04 249.19 L23.04 253.07 L22.39 255 L21.09 255.65 L20.44 255.65 L19.15 255 L18.5 253.07M11.37 224.67 L12.02 225.31 L12.67 224.67 L12.02 224.02 L11.37 224.02 L10.08 225.31 L9.43 226.6 L9.43 228.54 L10.08 230.48 L11.37 231.77 L13.32 232.41 L14.61 232.41 L16.56 231.77 L17.85 230.48 L18.5 228.54 L18.5 227.25 L17.85 225.31 L16.56 224.02M9.43 228.54 L10.08 229.83 L11.37 231.12 L13.32 231.77 L14.61 231.77 L16.56 231.12 L17.85 229.83 L18.5 228.54M9.43 218.86 L18.5 218.86M9.43 218.21 L18.5 218.21M11.37 218.21 L10.08 216.92 L9.43 214.99 L9.43 213.7 L10.08 211.76 L11.37 211.11 L18.5 211.11M9.43 213.7 L10.08 212.41 L11.37 211.76 L18.5 211.76M11.37 211.11 L10.08 209.82 L9.43 207.89 L9.43 206.6 L10.08 204.66 L11.37 204.01 L18.5 204.01M9.43 206.6 L10.08 205.31 L11.37 204.66 L18.5 204.66M9.43 220.8 L9.43 218.21M18.5 220.8 L18.5 216.28M18.5 213.7 L18.5 209.18M18.5 206.6 L18.5 202.08M8.7 199.23 L8.7 192.2M5.56 189.07 L5.95 188.68 L6.35 189.07 L5.95 189.46 L5.56 189.46 L4.78 189.07 L4.39 188.68 L3.99 187.51 L3.99 185.95 L4.39 184.78 L4.78 184.39 L5.56 184 L6.35 184 L7.13 184.39 L7.91 185.56 L8.7 187.51 L9.09 188.29 L9.88 189.07 L11.05 189.46 L12.23 189.46M3.99 185.95 L4.39 185.17 L4.78 184.78 L5.56 184.39 L6.35 184.39 L7.13 184.78 L7.91 185.95 L8.7 187.51M11.44 189.46 L11.05 189.07 L11.05 188.29 L11.84 186.34 L11.84 185.17 L11.44 184.39 L11.05 184M11.05 188.29 L12.23 186.34 L12.23 184.78 L11.84 184.39 L11.05 184 L10.27 184M10.72 164.11 L9.43 163.46 L12.02 163.46 L10.72 164.11 L10.08 164.75 L9.43 166.05 L9.43 168.63 L10.08 169.92 L10.72 170.56 L12.02 170.56 L12.67 169.92 L13.32 168.63 L14.61 165.4 L15.26 164.11 L15.91 163.46M11.37 170.56 L12.02 169.92 L12.67 168.63 L13.96 165.4 L14.61 164.11 L15.26 163.46 L17.2 163.46 L17.85 164.11 L18.5 165.4 L18.5 167.98 L17.85 169.27 L17.2 169.92 L15.91 170.56 L18.5 170.56 L17.2 169.92M8.7 159.97 L8.7 152.94M5.56 149.03 L5.17 148.25 L3.99 147.08 L12.23 147.08M4.39 147.47 L12.23 147.47M12.23 149.03 L12.23 145.52M4.89 126.79 L18.5 131.3M4.89 126.79 L18.5 122.27M6.84 126.79 L18.5 122.91M14.61 130.01 L14.61 124.2M18.5 132.59 L18.5 128.72M18.5 124.85 L18.5 120.98M1.91 124.78 L2.78 124.98 L3.48 125.54 L3.87 126.34 L3.87 127.23 L3.48 128.03 L2.78 128.59 L1.91 128.79 L1.04 128.59 L0.34 128.03 L-0.05 127.23 L-0.05 126.34 L0.34 125.54 L1.04 124.98 L1.91 124.78M8.7 118.77 L8.7 111.74M5.56 107.84 L5.17 107.06 L3.99 105.88 L12.23 105.88M4.39 106.27 L12.23 106.27M12.23 107.84 L12.23 104.32M2.3 90.11 L3.6 88.82 L5.54 87.53 L8.13 86.23 L11.37 85.59 L13.96 85.59 L17.2 86.23 L19.8 87.53 L21.74 88.82 L23.04 90.11M3.6 88.82 L6.19 87.53 L8.13 86.88 L11.37 86.23 L13.96 86.23 L17.2 86.88 L19.15 87.53 L21.74 88.82"/>
<path class="t" stroke="#ff0000" d="M361.14 48.77 L361.14 49.42 L360.49 49.42 L360.49 48.77 L361.14 48.13 L362.44 47.48 L365.03 47.48 L366.32 48.13 L366.97 48.77 L367.62 50.07 L367.62 54.61 L368.27 55.9 L368.92 56.55M366.97 48.77 L366.97 54.61 L367.62 55.9 L368.92 56.55 L369.56 56.55M366.97 50.07 L366.32 50.72 L362.44 51.37 L360.49 52.01 L359.84 53.31 L359.84 54.61 L360.49 55.9 L362.44 56.55 L364.38 56.55 L365.68 55.9 L366.97 54.61M362.44 51.37 L361.14 52.01 L360.49 53.31 L360.49 54.61 L361.14 55.9 L362.44 56.55M374.1 47.48 L373.45 48.13 L374.1 48.77 L374.75 48.13 L374.1 47.48M374.1 55.25 L373.45 55.9 L374.1 56.55 L374.75 55.9 L374.1 55.25M390.95 47.48 L390.95 56.55M391.6 47.48 L391.6 56.55M391.6 49.42 L392.89 48.13 L394.84 47.48 L396.13 47.48 L398.08 48.13 L398.72 49.42 L398.72 56.55M396.13 47.48 L397.43 48.13 L398.08 49.42 L398.08 56.55M398.72 49.42 L400.02 48.13 L401.96 47.48 L403.26 47.48 L405.2 48.13 L405.85 49.42 L405.85 56.55M403.26 47.48 L404.56 48.13 L405.2 49.42 L405.2 56.55M389 47.48 L391.6 47.48M389 56.55 L393.54 56.55M396.13 56.55 L400.67 56.55M403.26 56.55 L407.8 56.55M412.23 54.59 L411.05 54.98 L410.66 55.77 L410.66 56.94 L411.05 57.73 L412.23 58.12 L413.8 58.12 L414.97 57.73 L415.36 56.94 L415.36 55.77 L414.97 54.98 L413.8 54.59 L412.23 54.59M412.23 54.59 L411.44 54.98 L411.05 55.77 L411.05 56.94 L411.44 57.73 L412.23 58.12M413.8 58.12 L414.58 57.73 L414.97 56.94 L414.97 55.77 L414.58 54.98 L413.8 54.59M412.23 58.12 L411.05 58.51 L410.66 58.9 L410.27 59.69 L410.27 61.25 L410.66 62.04 L411.05 62.43 L412.23 62.82 L413.8 62.82 L414.97 62.43 L415.36 62.04 L415.76 61.25 L415.76 59.69 L415.36 58.9 L414.97 58.51 L413.8 58.12M412.23 58.12 L411.44 58.51 L411.05 58.9 L410.66 59.69 L410.66 61.25 L411.05 62.04 L411.44 62.43 L412.23 62.82M413.8 62.82 L414.58 62.43 L414.97 62.04 L415.36 61.25 L415.36 59.69 L414.97 58.9 L414.58 58.51 L413.8 58.12M429.89 48.77 L441.56 48.77M429.89 52.66 L441.56 52.66M460.35 42.94 L458.4 43.59 L457.11 45.53 L456.46 48.77 L456.46 50.72 L457.11 53.96 L458.4 55.9 L460.35 56.55 L461.64 56.55 L463.59 55.9 L464.88 53.96 L465.53 50.72 L465.53 48.77 L464.88 45.53 L463.59 43.59 L461.64 42.94 L460.35 42.94M460.35 42.94 L459.05 43.59 L458.4 44.24 L457.76 45.53 L457.11 48.77 L457.11 50.72 L457.76 53.96 L458.4 55.25 L459.05 55.9 L460.35 56.55M461.64 56.55 L462.94 55.9 L463.59 55.25 L464.24 53.96 L464.88 50.72 L464.88 48.77 L464.24 45.53 L463.59 44.24 L462.94 43.59 L461.64 42.94M470.72 55.25 L470.07 55.9 L470.72 56.55 L471.36 55.9 L470.72 55.25M476.55 45.53 L477.2 46.18 L476.55 46.83 L475.9 46.18 L475.9 45.53 L476.55 44.24 L477.2 43.59 L479.14 42.94 L481.73 42.94 L483.68 43.59 L484.32 44.24 L484.97 45.53 L484.97 46.83 L484.32 48.13 L482.38 49.42 L479.14 50.72 L477.84 51.37 L476.55 52.66 L475.9 54.61 L475.9 56.55M481.73 42.94 L483.03 43.59 L483.68 44.24 L484.32 45.53 L484.32 46.83 L483.68 48.13 L481.73 49.42 L479.14 50.72M475.9 55.25 L476.55 54.61 L477.84 54.61 L481.08 55.9 L483.03 55.9 L484.32 55.25 L484.97 54.61M477.84 54.61 L481.08 56.55 L483.68 56.55 L484.32 55.9 L484.97 54.61 L484.97 53.31M490.16 42.94 L488.86 49.42M488.86 49.42 L490.16 48.13 L492.1 47.48 L494.04 47.48 L495.99 48.13 L497.28 49.42 L497.93 51.37 L497.93 52.66 L497.28 54.61 L495.99 55.9 L494.04 56.55 L492.1 56.55 L490.16 55.9 L489.51 55.25 L488.86 53.96 L488.86 53.31 L489.51 52.66 L490.16 53.31 L489.51 53.96M494.04 47.48 L495.34 48.13 L496.64 49.42 L497.28 51.37 L497.28 52.66 L496.64 54.61 L495.34 55.9 L494.04 56.55M490.16 42.94 L496.64 42.94M490.16 43.59 L493.4 43.59 L496.64 42.94M503.12 56.55 L502.47 55.9 L503.12 55.25 L503.76 55.9 L503.76 57.2 L503.12 58.49 L502.47 59.14M522.56 43.43 L522.01 43.98 L522.56 44.53 L523.11 43.98 L522.56 43.43M519.96 47.48 L519.96 56.55M520.61 47.48 L520.61 56.55M520.61 49.42 L521.91 48.13 L523.85 47.48 L525.15 47.48 L527.09 48.13 L527.74 49.42 L527.74 56.55M525.15 47.48 L526.44 48.13 L527.09 49.42 L527.09 56.55M527.74 49.42 L529.04 48.13 L530.98 47.48 L532.28 47.48 L534.22 48.13 L534.87 49.42 L534.87 56.55M532.28 47.48 L533.57 48.13 L534.22 49.42 L534.22 56.55M518.02 47.48 L520.61 47.48M518.02 56.55 L522.56 56.55M525.15 56.55 L529.68 56.55M532.28 56.55 L536.81 56.55M551.07 48.77 L562.73 48.77M551.07 52.66 L562.73 52.66M581.52 42.94 L579.58 43.59 L578.28 45.53 L577.64 48.77 L577.64 50.72 L578.28 53.96 L579.58 55.9 L581.52 56.55 L582.82 56.55 L584.76 55.9 L586.06 53.96 L586.71 50.72 L586.71 48.77 L586.06 45.53 L584.76 43.59 L582.82 42.94 L581.52 42.94M581.52 42.94 L580.23 43.59 L579.58 44.24 L578.93 45.53 L578.28 48.77 L578.28 50.72 L578.93 53.96 L579.58 55.25 L580.23 55.9 L581.52 56.55M582.82 56.55 L584.12 55.9 L584.76 55.25 L585.41 53.96 L586.06 50.72 L586.06 48.77 L585.41 45.53 L584.76 44.24 L584.12 43.59 L582.82 42.94M591.89 55.25 L591.24 55.9 L591.89 56.55 L592.54 55.9 L591.89 55.25M600.96 42.94 L599.02 43.59 L597.72 45.53 L597.08 48.77 L597.08 50.72 L597.72 53.96 L599.02 55.9 L600.96 56.55 L602.26 56.55 L604.2 55.9 L605.5 53.96 L606.15 50.72 L606.15 48.77 L605.5 45.53 L604.2 43.59 L602.26 42.94 L600.96 42.94M600.96 42.94 L599.67 43.59 L599.02 44.24 L598.37 45.53 L597.72 48.77 L597.72 50.72 L598.37 53.96 L599.02 55.25 L599.67 55.9 L600.96 56.55M602.26 56.55 L603.56 55.9 L604.2 55.25 L604.85 53.96 L605.5 50.72 L605.5 48.77 L604.85 45.53 L604.2 44.24 L603.56 43.59 L602.26 42.94M610.68 45.53 L611.33 46.18 L610.68 46.83 L610.04 46.18 L610.04 45.53 L610.68 44.24 L611.33 43.59 L613.28 42.94 L615.87 42.94 L617.81 43.59 L618.46 44.24 L619.11 45.53 L619.11 46.83 L618.46 48.13 L616.52 49.42 L613.28 50.72 L611.98 51.37 L610.68 52.66 L610.04 54.61 L610.04 56.55M615.87 42.94 L617.16 43.59 L617.81 44.24 L618.46 45.53 L618.46 46.83 L617.81 48.13 L615.87 49.42 L613.28 50.72M610.04 55.25 L610.68 54.61 L611.98 54.61 L615.22 55.9 L617.16 55.9 L618.46 55.25 L619.11 54.61M611.98 54.61 L615.22 56.55 L617.81 56.55 L618.46 55.9 L619.11 54.61 L619.11 53.31M626.24 42.94 L624.29 43.59 L623.64 44.89 L623.64 46.83 L624.29 48.13 L626.24 48.77 L628.83 48.77 L630.77 48.13 L631.42 46.83 L631.42 44.89 L630.77 43.59 L628.83 42.94 L626.24 42.94M626.24 42.94 L624.94 43.59 L624.29 44.89 L624.29 46.83 L624.94 48.13 L626.24 48.77M628.83 48.77 L630.12 48.13 L630.77 46.83 L630.77 44.89 L630.12 43.59 L628.83 42.94M626.24 48.77 L624.29 49.42 L623.64 50.07 L623 51.37 L623 53.96 L623.64 55.25 L624.29 55.9 L626.24 56.55 L628.83 56.55 L630.77 55.9 L631.42 55.25 L632.07 53.96 L632.07 51.37 L631.42 50.07 L630.77 49.42 L628.83 48.77M626.24 48.77 L624.94 49.42 L624.29 50.07 L623.64 51.37 L623.64 53.96 L624.29 55.25 L624.94 55.9 L626.24 56.55M628.83 56.55 L630.12 55.9 L630.77 55.25 L631.42 53.96 L631.42 51.37 L630.77 50.07 L630.12 49.42 L628.83 48.77"/>
<path class="t" stroke="#ff0000" d="M361.14 61.19 L361.14 74.8M361.79 61.19 L361.79 74.8M361.79 67.67 L363.08 66.38 L364.38 65.73 L365.68 65.73 L367.62 66.38 L368.92 67.67 L369.56 69.62 L369.56 70.91 L368.92 72.86 L367.62 74.15 L365.68 74.8 L364.38 74.8 L363.08 74.15 L361.79 72.86M365.68 65.73 L366.97 66.38 L368.27 67.67 L368.92 69.62 L368.92 70.91 L368.27 72.86 L366.97 74.15 L365.68 74.8M359.2 61.19 L361.79 61.19M374.75 65.73 L374.1 66.38 L374.75 67.02 L375.4 66.38 L374.75 65.73M374.75 73.5 L374.1 74.15 L374.75 74.8 L375.4 74.15 L374.75 73.5M391.6 65.73 L391.6 74.8M392.24 65.73 L392.24 74.8M392.24 67.67 L393.54 66.38 L395.48 65.73 L396.78 65.73 L398.72 66.38 L399.37 67.67 L399.37 74.8M396.78 65.73 L398.08 66.38 L398.72 67.67 L398.72 74.8M399.37 67.67 L400.67 66.38 L402.61 65.73 L403.91 65.73 L405.85 66.38 L406.5 67.67 L406.5 74.8M403.91 65.73 L405.2 66.38 L405.85 67.67 L405.85 74.8M389.65 65.73 L392.24 65.73M389.65 74.8 L394.19 74.8M396.78 74.8 L401.32 74.8M403.91 74.8 L408.44 74.8M412.88 72.84 L411.7 73.23 L411.31 74.02 L411.31 75.19 L411.7 75.98 L412.88 76.37 L414.44 76.37 L415.62 75.98 L416.01 75.19 L416.01 74.02 L415.62 73.23 L414.44 72.84 L412.88 72.84M412.88 72.84 L412.09 73.23 L411.7 74.02 L411.7 75.19 L412.09 75.98 L412.88 76.37M414.44 76.37 L415.23 75.98 L415.62 75.19 L415.62 74.02 L415.23 73.23 L414.44 72.84M412.88 76.37 L411.7 76.76 L411.31 77.15 L410.92 77.94 L410.92 79.5 L411.31 80.29 L411.7 80.68 L412.88 81.07 L414.44 81.07 L415.62 80.68 L416.01 80.29 L416.4 79.5 L416.4 77.94 L416.01 77.15 L415.62 76.76 L414.44 76.37M412.88 76.37 L412.09 76.76 L411.7 77.15 L411.31 77.94 L411.31 79.5 L411.7 80.29 L412.09 80.68 L412.88 81.07M414.44 81.07 L415.23 80.68 L415.62 80.29 L416.01 79.5 L416.01 77.94 L415.62 77.15 L415.23 76.76 L414.44 76.37M430.54 67.02 L442.2 67.02M430.54 70.91 L442.2 70.91M459.05 63.78 L460.35 63.14 L462.29 61.19 L462.29 74.8M461.64 61.84 L461.64 74.8M459.05 74.8 L464.88 74.8M471.36 73.5 L470.72 74.15 L471.36 74.8 L472.01 74.15 L471.36 73.5M480.44 61.19 L478.49 61.84 L477.2 63.78 L476.55 67.02 L476.55 68.97 L477.2 72.21 L478.49 74.15 L480.44 74.8 L481.73 74.8 L483.68 74.15 L484.97 72.21 L485.62 68.97 L485.62 67.02 L484.97 63.78 L483.68 61.84 L481.73 61.19 L480.44 61.19M480.44 61.19 L479.14 61.84 L478.49 62.49 L477.84 63.78 L477.2 67.02 L477.2 68.97 L477.84 72.21 L478.49 73.5 L479.14 74.15 L480.44 74.8M481.73 74.8 L483.03 74.15 L483.68 73.5 L484.32 72.21 L484.97 68.97 L484.97 67.02 L484.32 63.78 L483.68 62.49 L483.03 61.84 L481.73 61.19M493.4 61.19 L491.45 61.84 L490.16 63.78 L489.51 67.02 L489.51 68.97 L490.16 72.21 L491.45 74.15 L493.4 74.8 L494.69 74.8 L496.64 74.15 L497.93 72.21 L498.58 68.97 L498.58 67.02 L497.93 63.78 L496.64 61.84 L494.69 61.19 L493.4 61.19M493.4 61.19 L492.1 61.84 L491.45 62.49 L490.8 63.78 L490.16 67.02 L490.16 68.97 L490.8 72.21 L491.45 73.5 L492.1 74.15 L493.4 74.8M494.69 74.8 L495.99 74.15 L496.64 73.5 L497.28 72.21 L497.93 68.97 L497.93 67.02 L497.28 63.78 L496.64 62.49 L495.99 61.84 L494.69 61.19M503.76 74.8 L503.12 74.15 L503.76 73.5 L504.41 74.15 L504.41 75.45 L503.76 76.74 L503.12 77.39M523.2 61.68 L522.65 62.23 L523.2 62.78 L523.76 62.23 L523.2 61.68M520.61 65.73 L520.61 74.8M521.26 65.73 L521.26 74.8M521.26 67.67 L522.56 66.38 L524.5 65.73 L525.8 65.73 L527.74 66.38 L528.39 67.67 L528.39 74.8M525.8 65.73 L527.09 66.38 L527.74 67.67 L527.74 74.8M528.39 67.67 L529.68 66.38 L531.63 65.73 L532.92 65.73 L534.87 66.38 L535.52 67.67 L535.52 74.8M532.92 65.73 L534.22 66.38 L534.87 67.67 L534.87 74.8M518.67 65.73 L521.26 65.73M518.67 74.8 L523.2 74.8M525.8 74.8 L530.33 74.8M532.92 74.8 L537.46 74.8M551.72 67.02 L563.38 67.02M551.72 70.91 L563.38 70.91M582.17 61.19 L580.23 61.84 L578.93 63.78 L578.28 67.02 L578.28 68.97 L578.93 72.21 L580.23 74.15 L582.17 74.8 L583.47 74.8 L585.41 74.15 L586.71 72.21 L587.36 68.97 L587.36 67.02 L586.71 63.78 L585.41 61.84 L583.47 61.19 L582.17 61.19M582.17 61.19 L580.88 61.84 L580.23 62.49 L579.58 63.78 L578.93 67.02 L578.93 68.97 L579.58 72.21 L580.23 73.5 L580.88 74.15 L582.17 74.8M583.47 74.8 L584.76 74.15 L585.41 73.5 L586.06 72.21 L586.71 68.97 L586.71 67.02 L586.06 63.78 L585.41 62.49 L584.76 61.84 L583.47 61.19M592.54 73.5 L591.89 74.15 L592.54 74.8 L593.19 74.15 L592.54 73.5M601.61 61.19 L599.67 61.84 L598.37 63.78 L597.72 67.02 L597.72 68.97 L598.37 72.21 L599.67 74.15 L601.61 74.8 L602.91 74.8 L604.85 74.15 L606.15 72.21 L606.8 68.97 L606.8 67.02 L606.15 63.78 L604.85 61.84 L602.91 61.19 L601.61 61.19M601.61 61.19 L600.32 61.84 L599.67 62.49 L599.02 63.78 L598.37 67.02 L598.37 68.97 L599.02 72.21 L599.67 73.5 L600.32 74.15 L601.61 74.8M602.91 74.8 L604.2 74.15 L604.85 73.5 L605.5 72.21 L606.15 68.97 L606.15 67.02 L605.5 63.78 L604.85 62.49 L604.2 61.84 L602.91 61.19M614.57 61.19 L612.63 61.84 L611.33 63.78 L610.68 67.02 L610.68 68.97 L611.33 72.21 L612.63 74.15 L614.57 74.8 L615.87 74.8 L617.81 74.15 L619.11 72.21 L619.76 68.97 L619.76 67.02 L619.11 63.78 L617.81 61.84 L615.87 61.19 L614.57 61.19M614.57 61.19 L613.28 61.84 L612.63 62.49 L611.98 63.78 L611.33 67.02 L611.33 68.97 L611.98 72.21 L612.63 73.5 L613.28 74.15 L614.57 74.8M615.87 74.8 L617.16 74.15 L617.81 73.5 L618.46 72.21 L619.11 68.97 L619.11 67.02 L618.46 63.78 L617.81 62.49 L617.16 61.84 L615.87 61.19M632.07 65.73 L631.42 67.67 L630.12 68.97 L628.18 69.62 L627.53 69.62 L625.59 68.97 L624.29 67.67 L623.64 65.73 L623.64 65.08 L624.29 63.14 L625.59 61.84 L627.53 61.19 L628.83 61.19 L630.77 61.84 L632.07 63.14 L632.72 65.08 L632.72 68.97 L632.07 71.56 L631.42 72.86 L630.12 74.15 L628.18 74.8 L626.24 74.8 L624.94 74.15 L624.29 72.86 L624.29 72.21 L624.94 71.56 L625.59 72.21 L624.94 72.86M627.53 69.62 L626.24 68.97 L624.94 67.67 L624.29 65.73 L624.29 65.08 L624.94 63.14 L626.24 61.84 L627.53 61.19M628.83 61.19 L630.12 61.84 L631.42 63.14 L632.07 65.08 L632.07 68.97 L631.42 71.56 L630.77 72.86 L629.48 74.15 L628.18 74.8"/>
<path class="t" stroke="#ff0000" d="M367.62 86.07 L366.97 86.72 L367.62 87.37 L368.27 86.72 L368.27 86.07 L366.97 84.78 L365.68 84.13 L363.73 84.13 L361.79 84.78 L360.49 86.07 L359.84 88.02 L359.84 89.31 L360.49 91.26 L361.79 92.55 L363.73 93.2 L365.03 93.2 L366.97 92.55 L368.27 91.26M363.73 84.13 L362.44 84.78 L361.14 86.07 L360.49 88.02 L360.49 89.31 L361.14 91.26 L362.44 92.55 L363.73 93.2M373.45 84.13 L372.8 84.78 L373.45 85.42 L374.1 84.78 L373.45 84.13M373.45 91.9 L372.8 92.55 L373.45 93.2 L374.1 92.55 L373.45 91.9M390.3 84.13 L390.3 93.2M390.95 84.13 L390.95 93.2M390.95 86.07 L392.24 84.78 L394.19 84.13 L395.48 84.13 L397.43 84.78 L398.08 86.07 L398.08 93.2M395.48 84.13 L396.78 84.78 L397.43 86.07 L397.43 93.2M398.08 86.07 L399.37 84.78 L401.32 84.13 L402.61 84.13 L404.56 84.78 L405.2 86.07 L405.2 93.2M402.61 84.13 L403.91 84.78 L404.56 86.07 L404.56 93.2M388.36 84.13 L390.95 84.13M388.36 93.2 L392.89 93.2M395.48 93.2 L400.02 93.2M402.61 93.2 L407.15 93.2M411.58 91.24 L410.4 91.63 L410.01 92.42 L410.01 93.59 L410.4 94.38 L411.58 94.77 L413.15 94.77 L414.32 94.38 L414.72 93.59 L414.72 92.42 L414.32 91.63 L413.15 91.24 L411.58 91.24M411.58 91.24 L410.8 91.63 L410.4 92.42 L410.4 93.59 L410.8 94.38 L411.58 94.77M413.15 94.77 L413.93 94.38 L414.32 93.59 L414.32 92.42 L413.93 91.63 L413.15 91.24M411.58 94.77 L410.4 95.16 L410.01 95.55 L409.62 96.34 L409.62 97.9 L410.01 98.69 L410.4 99.08 L411.58 99.47 L413.15 99.47 L414.32 99.08 L414.72 98.69 L415.11 97.9 L415.11 96.34 L414.72 95.55 L414.32 95.16 L413.15 94.77M411.58 94.77 L410.8 95.16 L410.4 95.55 L410.01 96.34 L410.01 97.9 L410.4 98.69 L410.8 99.08 L411.58 99.47M413.15 99.47 L413.93 99.08 L414.32 98.69 L414.72 97.9 L414.72 96.34 L414.32 95.55 L413.93 95.16 L413.15 94.77M429.24 85.42 L440.91 85.42M429.24 89.31 L440.91 89.31M456.46 82.18 L457.11 82.83 L456.46 83.48 L455.81 82.83 L455.81 82.18 L456.46 80.89 L457.11 80.24 L459.05 79.59 L461.64 79.59 L463.59 80.24 L464.24 81.54 L464.24 83.48 L463.59 84.78 L461.64 85.42 L459.7 85.42M461.64 79.59 L462.94 80.24 L463.59 81.54 L463.59 83.48 L462.94 84.78 L461.64 85.42M461.64 85.42 L462.94 86.07 L464.24 87.37 L464.88 88.66 L464.88 90.61 L464.24 91.9 L463.59 92.55 L461.64 93.2 L459.05 93.2 L457.11 92.55 L456.46 91.9 L455.81 90.61 L455.81 89.96 L456.46 89.31 L457.11 89.96 L456.46 90.61M463.59 86.72 L464.24 88.66 L464.24 90.61 L463.59 91.9 L462.94 92.55 L461.64 93.2M470.07 91.9 L469.42 92.55 L470.07 93.2 L470.72 92.55 L470.07 91.9M479.14 79.59 L477.2 80.24 L475.9 82.18 L475.25 85.42 L475.25 87.37 L475.9 90.61 L477.2 92.55 L479.14 93.2 L480.44 93.2 L482.38 92.55 L483.68 90.61 L484.32 87.37 L484.32 85.42 L483.68 82.18 L482.38 80.24 L480.44 79.59 L479.14 79.59M479.14 79.59 L477.84 80.24 L477.2 80.89 L476.55 82.18 L475.9 85.42 L475.9 87.37 L476.55 90.61 L477.2 91.9 L477.84 92.55 L479.14 93.2M480.44 93.2 L481.73 92.55 L482.38 91.9 L483.03 90.61 L483.68 87.37 L483.68 85.42 L483.03 82.18 L482.38 80.89 L481.73 80.24 L480.44 79.59M492.1 79.59 L490.16 80.24 L488.86 82.18 L488.21 85.42 L488.21 87.37 L488.86 90.61 L490.16 92.55 L492.1 93.2 L493.4 93.2 L495.34 92.55 L496.64 90.61 L497.28 87.37 L497.28 85.42 L496.64 82.18 L495.34 80.24 L493.4 79.59 L492.1 79.59M492.1 79.59 L490.8 80.24 L490.16 80.89 L489.51 82.18 L488.86 85.42 L488.86 87.37 L489.51 90.61 L490.16 91.9 L490.8 92.55 L492.1 93.2M493.4 93.2 L494.69 92.55 L495.34 91.9 L495.99 90.61 L496.64 87.37 L496.64 85.42 L495.99 82.18 L495.34 80.89 L494.69 80.24 L493.4 79.59M502.47 93.2 L501.82 92.55 L502.47 91.9 L503.12 92.55 L503.12 93.85 L502.47 95.14 L501.82 95.79M521.91 80.08 L521.36 80.63 L521.91 81.18 L522.46 80.63 L521.91 80.08M519.32 84.13 L519.32 93.2M519.96 84.13 L519.96 93.2M519.96 86.07 L521.26 84.78 L523.2 84.13 L524.5 84.13 L526.44 84.78 L527.09 86.07 L527.09 93.2M524.5 84.13 L525.8 84.78 L526.44 86.07 L526.44 93.2M527.09 86.07 L528.39 84.78 L530.33 84.13 L531.63 84.13 L533.57 84.78 L534.22 86.07 L534.22 93.2M531.63 84.13 L532.92 84.78 L533.57 86.07 L533.57 93.2M517.37 84.13 L519.96 84.13M517.37 93.2 L521.91 93.2M524.5 93.2 L529.04 93.2M531.63 93.2 L536.16 93.2M550.42 85.42 L562.08 85.42M550.42 89.31 L562.08 89.31M580.88 79.59 L578.93 80.24 L577.64 82.18 L576.99 85.42 L576.99 87.37 L577.64 90.61 L578.93 92.55 L580.88 93.2 L582.17 93.2 L584.12 92.55 L585.41 90.61 L586.06 87.37 L586.06 85.42 L585.41 82.18 L584.12 80.24 L582.17 79.59 L580.88 79.59M580.88 79.59 L579.58 80.24 L578.93 80.89 L578.28 82.18 L577.64 85.42 L577.64 87.37 L578.28 90.61 L578.93 91.9 L579.58 92.55 L580.88 93.2M582.17 93.2 L583.47 92.55 L584.12 91.9 L584.76 90.61 L585.41 87.37 L585.41 85.42 L584.76 82.18 L584.12 80.89 L583.47 80.24 L582.17 79.59M591.24 91.9 L590.6 92.55 L591.24 93.2 L591.89 92.55 L591.24 91.9M600.32 79.59 L598.37 80.24 L597.08 82.18 L596.43 85.42 L596.43 87.37 L597.08 90.61 L598.37 92.55 L600.32 93.2 L601.61 93.2 L603.56 92.55 L604.85 90.61 L605.5 87.37 L605.5 85.42 L604.85 82.18 L603.56 80.24 L601.61 79.59 L600.32 79.59M600.32 79.59 L599.02 80.24 L598.37 80.89 L597.72 82.18 L597.08 85.42 L597.08 87.37 L597.72 90.61 L598.37 91.9 L599.02 92.55 L600.32 93.2M601.61 93.2 L602.91 92.55 L603.56 91.9 L604.2 90.61 L604.85 87.37 L604.85 85.42 L604.2 82.18 L603.56 80.89 L602.91 80.24 L601.61 79.59M613.28 79.59 L611.33 80.24 L610.04 82.18 L609.39 85.42 L609.39 87.37 L610.04 90.61 L611.33 92.55 L613.28 93.2 L614.57 93.2 L616.52 92.55 L617.81 90.61 L618.46 87.37 L618.46 85.42 L617.81 82.18 L616.52 80.24 L614.57 79.59 L613.28 79.59M613.28 79.59 L611.98 80.24 L611.33 80.89 L610.68 82.18 L610.04 85.42 L610.04 87.37 L610.68 90.61 L611.33 91.9 L611.98 92.55 L613.28 93.2M614.57 93.2 L615.87 92.55 L616.52 91.9 L617.16 90.61 L617.81 87.37 L617.81 85.42 L617.16 82.18 L616.52 80.89 L615.87 80.24 L614.57 79.59M623 82.18 L623.64 82.83 L623 83.48 L622.35 82.83 L622.35 82.18 L623 80.89 L623.64 80.24 L625.59 79.59 L628.18 79.59 L630.12 80.24 L630.77 81.54 L630.77 83.48 L630.12 84.78 L628.18 85.42 L626.24 85.42M628.18 79.59 L629.48 80.24 L630.12 81.54 L630.12 83.48 L629.48 84.78 L628.18 85.42M628.18 85.42 L629.48 86.07 L630.77 87.37 L631.42 88.66 L631.42 90.61 L630.77 91.9 L630.12 92.55 L628.18 93.2 L625.59 93.2 L623.64 92.55 L623 91.9 L622.35 90.61 L622.35 89.96 L623 89.31 L623.64 89.96 L623 90.61M630.12 86.72 L630.77 88.66 L630.77 90.61 L630.12 91.9 L629.48 92.55 L628.18 93.2"/>
<path class="t" stroke="#ff0000" d="M453.54 119.29 L453.54 132.9M454.19 119.29 L454.19 132.9M461.96 119.29 L461.96 132.9M462.61 119.29 L462.61 132.9M451.6 119.29 L456.13 119.29M460.02 119.29 L464.56 119.29M454.19 125.77 L461.96 125.77M451.6 132.9 L456.13 132.9M460.02 132.9 L464.56 132.9M469.38 130.94 L468.2 131.33 L467.42 132.51 L467.03 134.47 L467.03 135.64 L467.42 137.6 L468.2 138.78 L469.38 139.17 L470.16 139.17 L471.34 138.78 L472.12 137.6 L472.52 135.64 L472.52 134.47 L472.12 132.51 L471.34 131.33 L470.16 130.94 L469.38 130.94M469.38 130.94 L468.6 131.33 L468.2 131.72 L467.81 132.51 L467.42 134.47 L467.42 135.64 L467.81 137.6 L468.2 138.39 L468.6 138.78 L469.38 139.17M470.16 139.17 L470.95 138.78 L471.34 138.39 L471.73 137.6 L472.12 135.64 L472.12 134.47 L471.73 132.51 L471.34 131.72 L470.95 131.33 L470.16 130.94M486.65 125.12 L498.32 125.12M486.65 129.01 L498.32 129.01M521 121.24 L520.35 121.88 L521 122.53 L521.64 121.88 L521.64 121.24 L521 119.94 L519.7 119.29 L517.76 119.29 L515.81 119.94 L514.52 121.24 L513.87 122.53 L513.22 125.12 L513.22 129.01 L513.87 130.96 L515.16 132.25 L517.11 132.9 L518.4 132.9 L520.35 132.25 L521.64 130.96 L522.29 129.01 L522.29 128.36 L521.64 126.42 L520.35 125.12 L518.4 124.48 L517.76 124.48 L515.81 125.12 L514.52 126.42 L513.87 128.36M517.76 119.29 L516.46 119.94 L515.16 121.24 L514.52 122.53 L513.87 125.12 L513.87 129.01 L514.52 130.96 L515.81 132.25 L517.11 132.9M518.4 132.9 L519.7 132.25 L521 130.96 L521.64 129.01 L521.64 128.36 L521 126.42 L519.7 125.12 L518.4 124.48M527.48 119.29 L526.18 125.77M526.18 125.77 L527.48 124.48 L529.42 123.83 L531.36 123.83 L533.31 124.48 L534.6 125.77 L535.25 127.72 L535.25 129.01 L534.6 130.96 L533.31 132.25 L531.36 132.9 L529.42 132.9 L527.48 132.25 L526.83 131.6 L526.18 130.31 L526.18 129.66 L526.83 129.01 L527.48 129.66 L526.83 130.31M531.36 123.83 L532.66 124.48 L533.96 125.77 L534.6 127.72 L534.6 129.01 L533.96 130.96 L532.66 132.25 L531.36 132.9M527.48 119.29 L533.96 119.29M527.48 119.94 L530.72 119.94 L533.96 119.29M550.8 119.29 L550.8 132.9M551.45 119.29 L551.45 132.9M557.93 123.83 L551.45 130.31M554.69 127.72 L558.58 132.9M554.04 127.72 L557.93 132.9M548.86 119.29 L551.45 119.29M555.99 123.83 L559.88 123.83M548.86 132.9 L553.4 132.9M555.99 132.9 L559.88 132.9M564.41 123.83 L564.41 132.9M565.06 123.83 L565.06 132.9M565.06 125.77 L566.36 124.48 L568.3 123.83 L569.6 123.83 L571.54 124.48 L572.19 125.77 L572.19 132.9M569.6 123.83 L570.89 124.48 L571.54 125.77 L571.54 132.9M572.19 125.77 L573.48 124.48 L575.43 123.83 L576.72 123.83 L578.67 124.48 L579.32 125.77 L579.32 132.9M576.72 123.83 L578.02 124.48 L578.67 125.77 L578.67 132.9M562.47 123.83 L565.06 123.83M562.47 132.9 L567 132.9M569.6 132.9 L574.13 132.9M576.72 132.9 L581.26 132.9M595.52 116.7 L583.85 137.44M605.24 125.12 L605.88 123.83 L605.88 126.42 L605.24 125.12 L604.59 124.48 L603.29 123.83 L600.7 123.83 L599.4 124.48 L598.76 125.12 L598.76 126.42 L599.4 127.07 L600.7 127.72 L603.94 129.01 L605.24 129.66 L605.88 130.31M598.76 125.77 L599.4 126.42 L600.7 127.07 L603.94 128.36 L605.24 129.01 L605.88 129.66 L605.88 131.6 L605.24 132.25 L603.94 132.9 L601.35 132.9 L600.05 132.25 L599.4 131.6 L598.76 130.31 L598.76 132.9 L599.4 131.6M620.79 116.7 L609.12 137.44M625.32 119.29 L625.32 132.9M625.97 119.29 L629.86 130.96M625.32 119.29 L629.86 132.9M634.4 119.29 L629.86 132.9M634.4 119.29 L634.4 132.9M635.04 119.29 L635.04 132.9M623.38 119.29 L625.97 119.29M634.4 119.29 L636.99 119.29M623.38 132.9 L627.27 132.9M632.45 132.9 L636.99 132.9M641.52 123.83 L641.52 137.44M642.17 123.83 L642.17 137.44M642.17 125.77 L643.47 124.48 L644.76 123.83 L646.06 123.83 L648 124.48 L649.3 125.77 L649.95 127.72 L649.95 129.01 L649.3 130.96 L648 132.25 L646.06 132.9 L644.76 132.9 L643.47 132.25 L642.17 130.96M646.06 123.83 L647.36 124.48 L648.65 125.77 L649.3 127.72 L649.3 129.01 L648.65 130.96 L647.36 132.25 L646.06 132.9M639.58 123.83 L642.17 123.83M639.58 137.44 L644.12 137.44M661.61 125.77 L660.96 126.42 L661.61 127.07 L662.26 126.42 L662.26 125.77 L660.96 124.48 L659.67 123.83 L657.72 123.83 L655.78 124.48 L654.48 125.77 L653.84 127.72 L653.84 129.01 L654.48 130.96 L655.78 132.25 L657.72 132.9 L659.02 132.9 L660.96 132.25 L662.26 130.96M657.72 123.83 L656.43 124.48 L655.13 125.77 L654.48 127.72 L654.48 129.01 L655.13 130.96 L656.43 132.25 L657.72 132.9"/>
<path class="t" stroke="#ff0000" d="M123.64 79.52 L123.64 80.17 L122.99 80.17 L122.99 79.52 L123.64 78.88 L124.94 78.23 L127.53 78.23 L128.82 78.88 L129.47 79.52 L130.12 80.82 L130.12 85.36 L130.77 86.65 L131.42 87.3M129.47 79.52 L129.47 85.36 L130.12 86.65 L131.42 87.3 L132.06 87.3M129.47 80.82 L128.82 81.47 L124.94 82.12 L122.99 82.76 L122.34 84.06 L122.34 85.36 L122.99 86.65 L124.94 87.3 L126.88 87.3 L128.18 86.65 L129.47 85.36M124.94 82.12 L123.64 82.76 L122.99 84.06 L122.99 85.36 L123.64 86.65 L124.94 87.3"/>
<path class="t" stroke="#ff0000" d="M124.24 149.69 L124.24 163.3M124.89 149.69 L124.89 163.3M124.89 156.17 L126.18 154.88 L127.48 154.23 L128.78 154.23 L130.72 154.88 L132.02 156.17 L132.66 158.12 L132.66 159.41 L132.02 161.36 L130.72 162.65 L128.78 163.3 L127.48 163.3 L126.18 162.65 L124.89 161.36M128.78 154.23 L130.07 154.88 L131.37 156.17 L132.02 158.12 L132.02 159.41 L131.37 161.36 L130.07 162.65 L128.78 163.3M122.3 149.69 L124.89 149.69"/>
<path class="t" stroke="#ff0000" d="M212.22 202.47 L211.57 203.12 L212.22 203.77 L212.87 203.12 L212.87 202.47 L211.57 201.18 L210.28 200.53 L208.33 200.53 L206.39 201.18 L205.09 202.47 L204.44 204.42 L204.44 205.71 L205.09 207.66 L206.39 208.95 L208.33 209.6 L209.63 209.6 L211.57 208.95 L212.87 207.66M208.33 200.53 L207.04 201.18 L205.74 202.47 L205.09 204.42 L205.09 205.71 L205.74 207.66 L207.04 208.95 L208.33 209.6"/>
</g>
<g class="lbl">
<text x="250.25" y="507.3" textLength="51.84">1000</text>
<text x="668.65" y="508.2" textLength="25.92">10<tspan dy='-6' font-size='9'>4</tspan></text>
<text transform="translate(59.3 51.79) rotate(-90)" textLength="51.79">10<tspan dy='-6' font-size='9'>−12</tspan></text>
<text transform="translate(59.3 204.68) rotate(-90)" textLength="51.79">10<tspan dy='-6' font-size='9'>−13</tspan></text>
<text transform="translate(59.3 357.56) rotate(-90)" textLength="51.79">10<tspan dy='-6' font-size='9'>−14</tspan></text>
<text transform="translate(59.3 510.44) rotate(-90)" textLength="51.79">10<tspan dy='-6' font-size='9'>−15</tspan></text>
<text x="250.45" y="535.3" textLength="256.61">Wavelength (Angstrom)</text>
<text transform="translate(18.5 346.65) rotate(-90)" textLength="264.7">Flux (erg cm<tspan dy='-6' font-size='9'>−2</tspan><tspan dy='6'> s</tspan><tspan dy='-6' font-size='9'>−1</tspan><tspan dy='6'> Å</tspan><tspan dy='-6' font-size='9'>−1</tspan><tspan dy='6'> )</tspan></text>
<text x="357.9" y="56.55" textLength="276.11">a: m<tspan dy='5' font-size='9'>8</tspan><tspan dy='-5'> = 0.25, ṁ = 0.028</tspan></text>
<text x="357.9" y="74.8" textLength="276.76">b: m<tspan dy='5' font-size='9'>8</tspan><tspan dy='-5'> = 1.00, ṁ = 0.009</tspan></text>
<text x="357.9" y="93.2" textLength="275.46">c: m<tspan dy='5' font-size='9'>8</tspan><tspan dy='-5'> = 3.00, ṁ = 0.003</tspan></text>
<text x="450.3" y="132.9" textLength="213.9">H<tspan dy='5' font-size='9'>0</tspan><tspan dy='-5'> = 65 km/s/Mpc</tspan></text>
<text x="120.4" y="87.3" textLength="12.96">a</text>
<text x="121" y="163.3" textLength="13.61">b</text>
<text x="202.5" y="209.6" textLength="12.31">c</text>
</g>
</svg>
</body></html>
